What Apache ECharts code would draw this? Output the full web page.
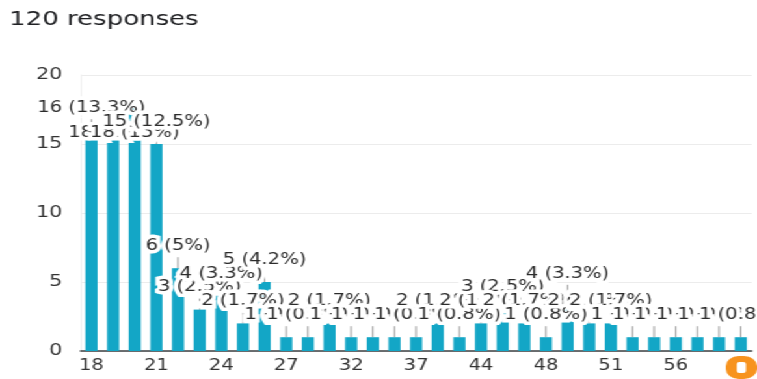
<!DOCTYPE html>
<html>
<head>
<meta charset="utf-8">
<title>120 responses</title>
<script src="https://cdn.jsdelivr.net/npm/echarts@6/dist/echarts.min.js"></script>
<style>
  html, body { margin: 0; padding: 0; background: #fff; overflow: hidden; }
  #wrap { width: 757px; height: 379px; overflow: hidden; }
  /* the chart is laid out narrow and widened horizontally */
  #chart { width: 582px; height: 379px; transform: scaleX(1.3007); transform-origin: 0 0; }
</style>
</head>
<body>
<div id="wrap"><div id="chart"></div></div>
<script>
// Age answers (only the ages that were given) and how many people gave each one
const ages = ["18", "19", "20", "21", "22", "23", "24", "25", "26", "27",
              "28", "30", "32", "33", "35", "37", "40", "42", "44", "45",
              "46", "48", "49", "50", "51", "52", "54", "56", "58", "60", "65"];
const counts = [16, 18, 18, 15, 6, 3, 4, 2, 5, 1,
                1, 2, 1, 1, 1, 1, 2, 1, 2, 3,
                2, 1, 4, 2, 2, 1, 1, 1, 1, 1, 1];
const titleText = "120 responses";
const yMin = 0, yMax = 20, yStep = 5;

const total = counts.reduce((a, b) => a + b, 0);
const FONT = "DejaVu Sans";
const GRID_TOP = 75;
const STEM = 15;        // length of the guide line between a bar and its label
const INSIDE_DROP = 38; // where a label goes when there is no room above its bar

function pctText(v) {
  return +(v / total * 100).toFixed(1) + "%";
}

const chart = echarts.init(document.getElementById("chart"));
chart.setOption({
  animation: false,
  backgroundColor: "#fff",
  title: {
    text: titleText,
    left: 2,
    top: 5,
    textStyle: { fontFamily: FONT, fontSize: 20, fontWeight: "normal", color: "#202124" }
  },
  grid: { left: 62, right: 2, top: GRID_TOP, bottom: 28, containLabel: false },
  xAxis: {
    type: "category",
    data: ages,
    axisTick: { show: false },
    axisLine: { lineStyle: { color: "#3c4043", width: 1.5 } },
    axisLabel: {
      interval: 2,
      margin: 8,
      fontFamily: FONT,
      fontSize: 15,
      color: "#333"
    }
  },
  yAxis: {
    type: "value",
    min: yMin,
    max: yMax,
    interval: yStep,
    axisLine: { show: true, lineStyle: { color: "#f0f0f0" } },
    axisTick: { show: false },
    splitLine: { lineStyle: { color: "#ececec", width: 1 } },
    axisLabel: { margin: 14, fontFamily: FONT, fontSize: 16, color: "#333" }
  },
  series: [{
    type: "bar",
    data: counts,
    barWidth: "56%",
    itemStyle: { color: "#13a6c6" },
    label: {
      show: true,
      position: "top",
      distance: 0,
      fontFamily: FONT,
      fontSize: 15,
      lineHeight: 14,
      color: "#2b2b2b",
      textBorderColor: "#fff",
      textBorderWidth: 7,
      formatter: p => p.value + " (" + pctText(p.value) + ")"
    },
    labelLine: {
      show: true,
      length2: 0,
      smooth: false,
      lineStyle: { color: "#9a9a9a", width: 1 }
    },
    labelLayout: function (params) {
      const r = params.labelRect;
      if (r.y - STEM < GRID_TOP) {
        return { dy: INSIDE_DROP };
      }
      return { dy: -STEM };
    }
  }],
  // round orange badge in the bottom-right corner
  graphic: [
    {
      type: "rect", left: 558, top: 356, z: 100, zlevel: 1,
      shape: { width: 24, height: 23, r: 10 },
      style: { fill: "#f7931e" }
    },
    {
      type: "rect", left: 566.5, top: 362, z: 101, zlevel: 1,
      shape: { width: 7, height: 11, r: 2 },
      style: { fill: "#fff" }
    }
  ]
});
</script>
</body>
</html>
